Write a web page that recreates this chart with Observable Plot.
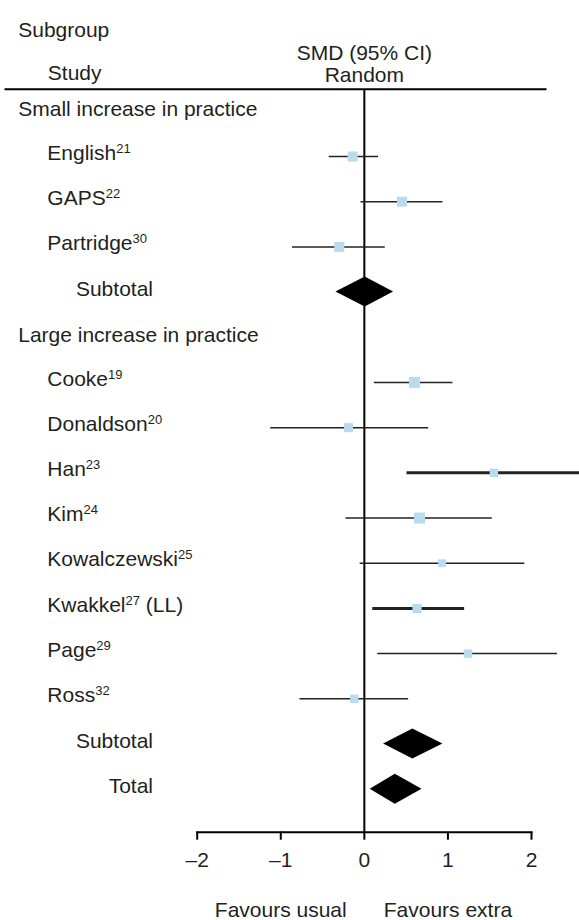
<!DOCTYPE html>
<html><head><meta charset="utf-8">
<script src="https://cdn.jsdelivr.net/npm/d3@7"></script>
<script src="https://cdn.jsdelivr.net/npm/@observablehq/plot@0.6"></script>
<style>
body{margin:0;background:#fff;}
#chart svg{display:block;}
</style></head><body><div id="chart"></div>
<script>
// ---- data ----
const groupNames = ["Small increase in practice", "Large increase in practice"];
const studies = ["English","GAPS","Partridge","Cooke","Donaldson","Han","Kim","Kowalczewski","Kwakkel","Page","Ross"];
const refs = ["21","22","30","19","20","23","24","25","27","29","32"];
const notes = ["","","","","","","","","(LL)","",""];
const studyGroup = [0,0,0,1,1,1,1,1,1,1,1];
const smd   = [-0.14, 0.45, -0.30, 0.60, -0.19, 1.55, 0.66, 0.93, 0.63, 1.24, -0.12];
const lower = [-0.42, -0.04, -0.86, 0.12, -1.12, 0.51, -0.22, -0.05, 0.10, 0.16, -0.77];
const upper = [0.17, 0.94, 0.25, 1.06, 0.77, 2.62, 1.53, 1.92, 1.20, 2.31, 0.53];
const weight = [10, 10, 10, 12, 8, 7, 12, 6, 8.5, 7, 7];
const pooledNames = ["Subtotal","Subtotal","Total"];
const pooledSmd   = [0.01, 0.58, 0.37];
const pooledLower = [-0.34, 0.23, 0.07];
const pooledUpper = [0.35, 0.94, 0.69];
const xTicks = [-2, -1, 0, 1, 2];
const headerLeft = ["Subgroup", "Study"];
const headerEffect = ["SMD (95% CI)", "Random"];
const favourText = ["Favours usual", "Favours extra"];
const favourX = [-1, 1];

// ---- rows ----
const rows = [];
groupNames.forEach((g, gi) => {
  rows.push({key: "group" + gi, kind: "group", label: g});
  studies.forEach((s, i) => {
    if (studyGroup[i] === gi) rows.push({key: "study" + i, kind: "study", label: s, ref: refs[i], note: notes[i],
      smd: smd[i], lower: lower[i], upper: upper[i], weight: weight[i]});
  });
  rows.push({key: "pooled" + gi, kind: "pooled", label: pooledNames[gi], smd: pooledSmd[gi], lower: pooledLower[gi], upper: pooledUpper[gi]});
});
rows.push({key: "pooled2", kind: "pooled", label: pooledNames[2], smd: pooledSmd[2], lower: pooledLower[2], upper: pooledUpper[2]});
const studyRows = rows.filter(d => d.kind === "study");
const pooledRows = rows.filter(d => d.kind === "pooled");
const groupRows = rows.filter(d => d.kind === "group");

const FONT = "'Liberation Sans', Arial, Helvetica, sans-serif";
const INK = "#231f20";
const FS = 21;

// custom: header rule across the table
const headerRule = (index, scales, values, dims) => {
  const g = d3.create("svg:g");
  g.append("line").attr("x1", 4.5).attr("x2", dims.width - 32.5)
    .attr("y1", dims.marginTop).attr("y2", dims.marginTop)
    .attr("stroke", "#000").attr("stroke-width", 2);
  return g.node();
};

// custom: study labels with superscript references
const studyLabels = (index, scales, values, dims) => {
  const g = d3.create("svg:g").attr("font-family", FONT).attr("font-size", FS).attr("fill", INK)
    .attr("text-anchor", "start");
  for (const d of studyRows) {
    const t = g.append("text").attr("x", dims.marginLeft - 149.4).attr("y", scales.y(d.key) - 3).attr("dy", "0.32em");
    t.append("tspan").text(d.label);
    t.append("tspan").attr("font-size", 13).attr("dy", -7).text(d.ref);
    if (d.note) t.append("tspan").attr("dy", 7).text("\u00a0" + d.note);
  }
  return g.node();
};

// custom: pooled diamonds
const diamonds = (index, scales) => {
  const g = d3.create("svg:g");
  for (const d of pooledRows) {
    const y = scales.y(d.key), h = 15;
    const xl = scales.x(d.lower), xm = scales.x(d.smd), xr = scales.x(d.upper);
    g.append("path").attr("d", `M${xl},${y}L${xm},${y - h}L${xr},${y}L${xm},${y + h}Z`).attr("fill", "#000");
  }
  return g.node();
};

const chart = Plot.plot({
  width: 579,
  height: 920,
  marginLeft: 196.7,
  marginRight: 48,
  marginTop: 89.3,
  marginBottom: 88.3,
  style: {background: "#fff", fontFamily: FONT, fontSize: FS + "px", color: INK},
  x: {domain: [-2, 2], axis: null},
  y: {type: "point", domain: rows.map(d => d.key), padding: 0, round: false, insetTop: 21.5, insetBottom: 43, axis: null},
  r: {type: "sqrt", domain: [0, 12], range: [0, 6.2]},
  marks: [
    headerRule,
    Plot.ruleX([0], {stroke: "#000", strokeWidth: 2}),
    Plot.frame({anchor: "bottom", stroke: "#000", strokeWidth: 2}),
    Plot.axisX(xTicks, {anchor: "bottom", tickSize: 8, tickPadding: 12, strokeWidth: 2, stroke: "#000",
      fontSize: FS, fill: INK, label: null, tickFormat: d => d < 0 ? "\u2013" + Math.abs(d) : String(d)}),
    // headers
    Plot.text([headerLeft[0]], {text: d => d, frameAnchor: "top-left", textAnchor: "start", dx: -179, dy: -68, fontSize: FS, fill: INK}),
    Plot.text([headerLeft[1]], {text: d => d, frameAnchor: "top-left", textAnchor: "start", dx: -149.4, dy: -24.5, fontSize: FS, fill: INK}),
    Plot.text([headerEffect[0]], {x: [0], text: d => d, frameAnchor: "top", dy: -45, fontSize: FS, fill: INK}),
    Plot.text([headerEffect[1]], {x: [0], text: d => d, frameAnchor: "top", dy: -22.5, fontSize: FS, fill: INK}),
    // row labels
    Plot.text(groupRows, {y: "key", text: "label", frameAnchor: "left", textAnchor: "start", dx: -179, dy: -2, fontSize: FS, fill: INK}),
    studyLabels,
    Plot.text(pooledRows, {y: "key", text: "label", frameAnchor: "left", textAnchor: "end", dx: -44.2, dy: -3, fontSize: FS, fill: INK}),
    // confidence intervals and estimates
    Plot.ruleY(studyRows, {y: "key", x1: "lower", x2: "upper", stroke: "#222",
      strokeWidth: d => (d.label === "Han" || d.label === "Kwakkel") ? 3 : 1.5}),
    Plot.dot(studyRows, {x: "smd", y: "key", r: "weight", symbol: "square", fill: "#b9dbf0", stroke: null}),
    diamonds,
    // favours
    Plot.text(favourText, {x: favourX, text: d => d, frameAnchor: "bottom", lineAnchor: "top", dy: 70, fontSize: FS, fill: INK})
  ]
});
document.getElementById("chart").appendChild(chart);
</script>
</body></html>
